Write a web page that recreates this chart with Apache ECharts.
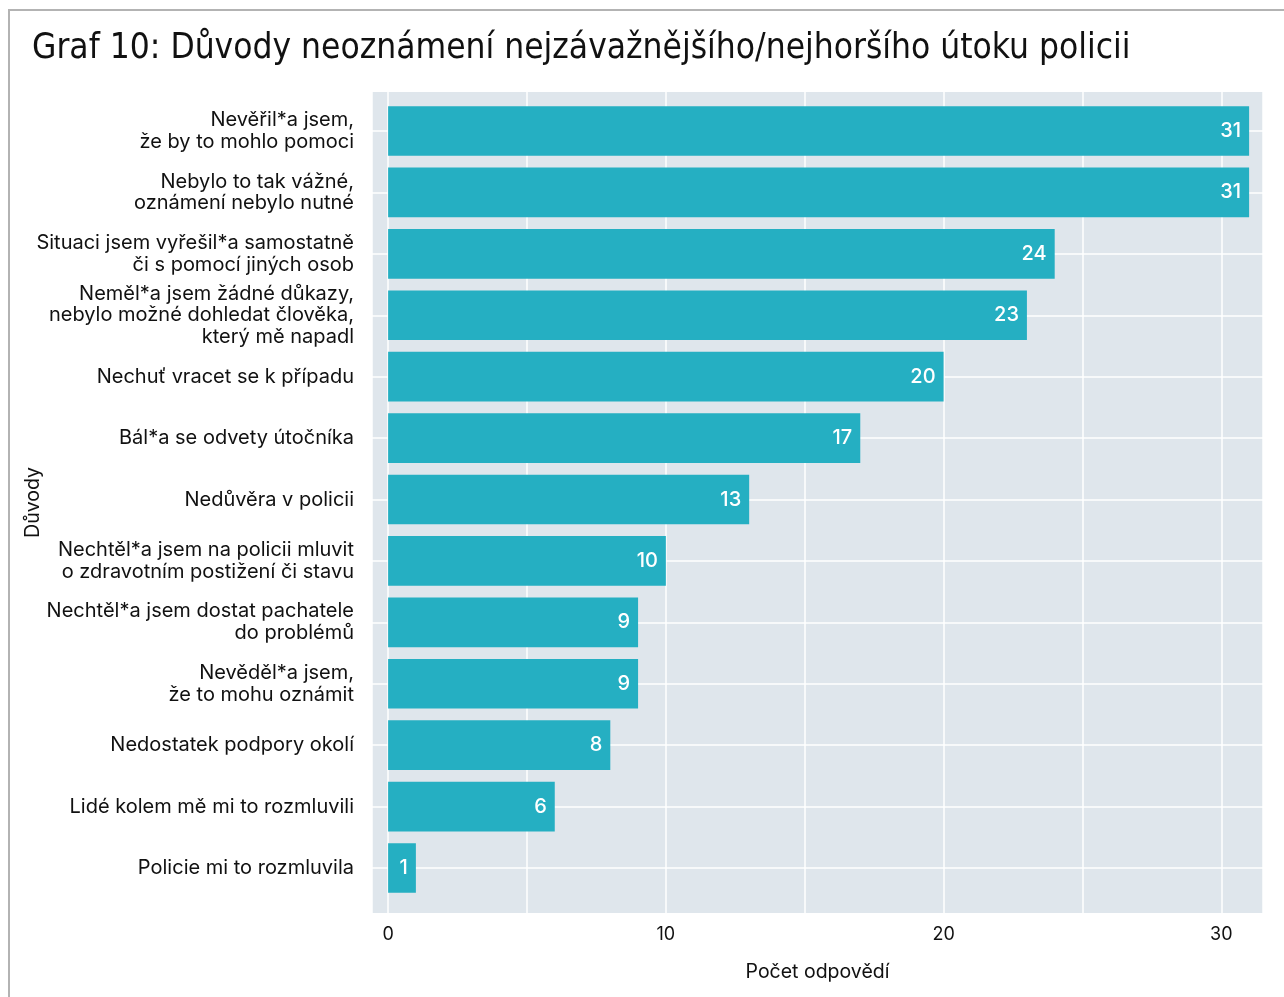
<!DOCTYPE html>
<html><head><meta charset="utf-8">
<script src="https://cdn.jsdelivr.net/npm/echarts@6/dist/echarts.min.js"></script>
<style>
html,body{margin:0;padding:0;background:#fff;overflow:hidden;}
#c{position:absolute;left:0;top:0;width:1284px;height:997px;}
#frame{position:absolute;left:8px;top:9px;width:1400px;height:1100px;border-top:2px solid #b3b3b3;border-left:2px solid #b3b3b3;pointer-events:none;}
</style>
</head><body><div id="c"></div><div id="frame"></div>
<script>
const titleText = 'Graf 10: Důvody neoznámení nejzávažnějšího/nejhoršího útoku policii';
const categories = [
  'Nevěřil*a jsem,\nže by to mohlo pomoci',
  'Nebylo to tak vážné,\noznámení nebylo nutné',
  'Situaci jsem vyřešil*a samostatně\nči s pomocí jiných osob',
  'Neměl*a jsem žádné důkazy,\nnebylo možné dohledat člověka,\nkterý mě napadl',
  'Nechuť vracet se k případu',
  'Bál*a se odvety útočníka',
  'Nedůvěra v policii',
  'Nechtěl*a jsem na policii mluvit\no zdravotním postižení či stavu',
  'Nechtěl*a jsem dostat pachatele\ndo problémů',
  'Nevěděl*a jsem,\nže to mohu oznámit',
  'Nedostatek podpory okolí',
  'Lidé kolem mě mi to rozmluvili',
  'Policie mi to rozmluvila'
];
const values = [31, 31, 24, 23, 20, 17, 13, 10, 9, 9, 8, 6, 1];
const xTickLabels = [0, 10, 20, 30];
const xName = 'Počet odpovědí';
const yName = 'Důvody';

const xMin = -0.58, xMax = 31.5;
const txt = '#111111';
const labelFont = 'Inter, "Noto Sans", sans-serif';

const chart = echarts.init(document.getElementById('c'), null, {renderer: 'canvas'});
chart.setOption({
  animation: false,
  title: {
    text: titleText, left: 32, top: 31, padding: 0,
    textStyle: {fontFamily: '"DejaVu Sans Condensed", "Liberation Sans Narrow", sans-serif', fontSize: 35, fontWeight: 'normal', color: '#111'}
  },
  grid: [
    {left: 372, right: 21, top: 92, bottom: 84, show: true, backgroundColor: '#dfe6ec', borderWidth: 0, containLabel: false},
    {left: 372, right: 21, top: 131, bottom: 129, show: false, containLabel: false}
  ],
  xAxis: [
    {gridIndex: 0, type: 'value', min: xMin, max: xMax,
     name: xName, nameLocation: 'middle', nameGap: 49,
     nameTextStyle: {fontFamily: labelFont, fontSize: 19.5, color: txt},
     axisLine: {show: false}, axisTick: {show: false},
     axisLabel: {margin: 13, fontFamily: labelFont, fontSize: 18, color: txt,
       showMinLabel: true, showMaxLabel: true,
       formatter: function (v) { return xTickLabels.indexOf(Math.round(v * 1000) / 1000) >= 0 ? String(v) : ''; }},
     splitLine: {show: true, lineStyle: {color: '#ffffff', width: 1.5}}},
    {gridIndex: 1, type: 'value', min: xMin, max: xMax, show: false, splitLine: {show: false}}
  ],
  yAxis: [
    {gridIndex: 0, type: 'value', min: 0, max: 1,
     name: yName, nameLocation: 'middle', nameGap: 329, nameRotate: 90,
     nameTextStyle: {fontFamily: labelFont, fontSize: 19.5, color: txt},
     axisLine: {show: false}, axisTick: {show: false}, axisLabel: {show: false}, splitLine: {show: false}},
    {gridIndex: 1, type: 'category', data: categories, inverse: true, boundaryGap: false,
     axisLine: {show: false}, axisTick: {show: false},
     axisLabel: {margin: 18, fontFamily: labelFont, fontSize: 20, color: txt, lineHeight: 21.7, align: 'right'},
     splitLine: {show: true, lineStyle: {color: '#ffffff', width: 1.5}}}
  ],
  series: [{
    type: 'bar', xAxisIndex: 1, yAxisIndex: 1, data: values, barWidth: '81%', clip: false,
    itemStyle: {color: '#25afc2'},
    label: {show: true, position: 'insideRight', distance: 8, color: '#ffffff',
            fontFamily: labelFont, fontSize: 20, fontWeight: 500}
  }]
});
</script>
</body></html>
